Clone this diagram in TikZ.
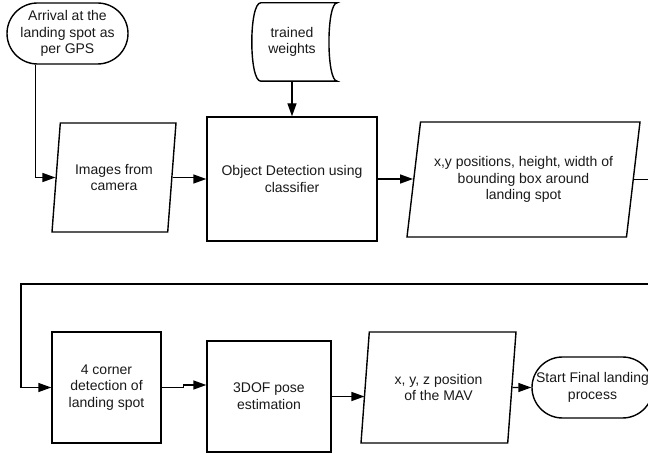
\documentclass[tikz,border=0pt]{standalone}
\usepackage{fontspec}
\setmainfont{Liberation Sans}
\usetikzlibrary{shapes.geometric,shapes.misc,arrows.meta}

\tikzset{
  base/.style={draw=black, line width=1.4pt, align=center, inner sep=2pt,
    font=\fontsize{14}{16.7}\selectfont, text=black!90},
  term/.style={base, rounded rectangle, minimum width=125pt, minimum height=61pt},
  proc/.style={base, rectangle},
  io/.style={base, trapezium, trapezium left angle=75, trapezium right angle=105,
    trapezium stretches body},
  store/.style={align=center, font=\fontsize{14}{16.7}\selectfont, text=black!90,
    minimum width=70pt, minimum height=78pt},
  line/.style={draw=black, line width=1.4pt, -{Triangle[length=13pt,width=9pt]}}
}

\begin{document}
\begin{tikzpicture}[x=1pt,y=-1pt]
  \clip (0,0) rectangle (648,454);
  % top row
  \node[term] (start) at (67.5,33.5) {Arrival at the\\landing spot as\\per GPS};
  \node[store] (weights) at (292,42) {trained\\weights};
  \draw[draw=black, line width=1.4pt]
    ([xshift=4pt]weights.north west) -- ([xshift=10pt]weights.north east)
    .. controls ([xshift=-1pt]weights.north east) and ([xshift=-1pt]weights.south east) ..
    ([xshift=10pt]weights.south east) -- ([xshift=4pt]weights.south west)
    .. controls ([xshift=-8pt]weights.south west) and ([xshift=-8pt]weights.north west) ..
    cycle;
  \node[io, minimum width=124pt, minimum height=109pt] (images) at (114,177.5) {Images from\\camera};
  \node[proc, minimum width=170pt, minimum height=124pt] (detect) at (292,179) {Object Detection using\\classifier};
  \node[io, minimum width=233pt, minimum height=115pt] (bbox) at (523.5,179.5) {x,y positions, height, width of\\bounding box around\\landing spot};
  % bottom row
  \node[proc, minimum width=109pt, minimum height=111pt] (corners) at (106.5,387.5) {4 corner\\detection of\\landing spot};
  \node[proc, minimum width=124pt, minimum height=111pt] (pose) at (269,396.5) {3DOF pose\\estimation};
  \node[io, minimum width=155pt, minimum height=111pt] (mav) at (438.5,387.5) {x, y, z position\\of the MAV};
  \node[term] (finish) at (592.5,387.5) {Start Final landing\\process};
  \coordinate (turnR) at (662,284);
  \coordinate (turnL) at (21,284);

  \draw[line] ([xshift=-32pt]start.south) |- (images.west);
  \draw[line] (weights) -- (detect);
  \draw[line] (images.east) -- ++(22,0) |- (detect.west);
  \draw[line] (detect.east) -- (detect.east -| bbox.west);
  \draw[line] (bbox.east) -| (turnR) -- (turnL) |- (corners.west);
  \draw[line] (corners.east) -- ++(22,0) |- ([yshift=11.5pt]pose.west);
  \draw[line] (pose.east) -- (pose.east -| mav.west);
  \draw[line] (mav.east) -- (finish.west);
\end{tikzpicture}
\end{document}
